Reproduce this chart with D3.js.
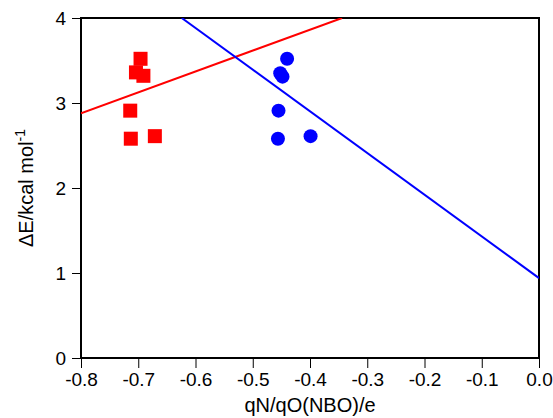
<!DOCTYPE html>
<html>
<head>
<meta charset="utf-8">
<script src="https://cdn.jsdelivr.net/npm/d3@7"></script>
<style>
  body { margin: 0; background: #fff; }
  text { font-family: "Liberation Sans", Arial, sans-serif; }
</style>
</head>
<body>
<div id="chart"></div>
<script>
// Data
var redX = [-0.696, -0.704, -0.691, -0.714, -0.713, -0.671];
var redY = [3.52, 3.36, 3.32, 2.91, 2.58, 2.61];
var blueX = [-0.440, -0.452, -0.448, -0.455, -0.456, -0.399];
var blueY = [3.52, 3.35, 3.31, 2.91, 2.58, 2.61];
// Fit lines: [x0, y0, x1, y1]
var redFit = [-0.8, 2.88, -0.344, 4.0];
var blueFit = [-0.624, 4.0, 0.0, 0.94];
var xTicks = [-0.8, -0.7, -0.6, -0.5, -0.4, -0.3, -0.2, -0.1, 0.0];
var yTicks = [0, 1, 2, 3, 4];

var size = {width: 553, height: 418};
var plot = {left: 81, right: 539, top: 18, bottom: 358};

var x = d3.scaleLinear().domain([-0.8, 0]).range([plot.left, plot.right]);
var y = d3.scaleLinear().domain([0, 4]).range([plot.bottom, plot.top]);

var svg = d3.select("#chart").append("svg")
    .attr("width", size.width)
    .attr("height", size.height);

// clip so the fit lines stop at the frame
svg.append("clipPath").attr("id", "clip")
  .append("rect")
    .attr("x", plot.left).attr("y", plot.top)
    .attr("width", plot.right - plot.left)
    .attr("height", plot.bottom - plot.top);

// axes (plain hyphen for the minus sign, like the original)
var xAxis = svg.append("g")
    .attr("transform", "translate(0," + plot.bottom + ")")
    .call(d3.axisBottom(x).tickValues(xTicks).tickSize(10).tickPadding(5)
      .tickFormat(function(d) { return d3.format(".1f")(d).replace("\u2212", "-"); }));
var yAxis = svg.append("g")
    .attr("transform", "translate(" + plot.left + ",0)")
    .call(d3.axisLeft(y).tickValues(yTicks).tickSize(9).tickPadding(6).tickFormat(d3.format("d")));

[xAxis, yAxis].forEach(function(g) {
  g.select(".domain").remove();
  g.selectAll(".tick line").attr("stroke", "#000").attr("stroke-width", 1);
  g.selectAll(".tick text").attr("font-size", 19).attr("fill", "#000")
    .style("font-family", "'Liberation Sans', Arial, sans-serif");
});

// frame
svg.append("rect")
    .attr("x", plot.left).attr("y", plot.top)
    .attr("width", plot.right - plot.left)
    .attr("height", plot.bottom - plot.top)
    .attr("fill", "none")
    .attr("stroke", "#000")
    .attr("stroke-width", 2);

// fit lines
var lines = svg.append("g").attr("clip-path", "url(#clip)");
[[redFit, "#ff0000"], [blueFit, "#0000ff"]].forEach(function(l) {
  lines.append("line")
    .attr("x1", x(l[0][0])).attr("y1", y(l[0][1]))
    .attr("x2", x(l[0][2])).attr("y2", y(l[0][3]))
    .attr("stroke", l[1])
    .attr("stroke-width", 2);
});

// markers
var sq = 14;
svg.append("g").selectAll("rect")
  .data(d3.range(redX.length))
  .enter().append("rect")
    .attr("x", function(i) { return x(redX[i]) - sq / 2; })
    .attr("y", function(i) { return y(redY[i]) - sq / 2; })
    .attr("width", sq).attr("height", sq)
    .attr("fill", "#ff0000");

svg.append("g").selectAll("circle")
  .data(d3.range(blueX.length))
  .enter().append("circle")
    .attr("cx", function(i) { return x(blueX[i]); })
    .attr("cy", function(i) { return y(blueY[i]); })
    .attr("r", 7)
    .attr("fill", "#0000ff");

// axis titles
svg.append("text")
    .attr("x", (plot.left + plot.right) / 2)
    .attr("y", 412)
    .attr("text-anchor", "middle")
    .attr("font-size", 20)
    .text("qN/qO(NBO)/e");

var yt = svg.append("text")
    .attr("transform", "translate(33," + (plot.top + plot.bottom) / 2 + ") rotate(-90)")
    .attr("text-anchor", "middle")
    .attr("font-size", 20);
yt.append("tspan").text("\u0394E/kcal mol");
yt.append("tspan").attr("dy", -8).attr("font-size", 14).text("-1");
</script>
</body>
</html>
